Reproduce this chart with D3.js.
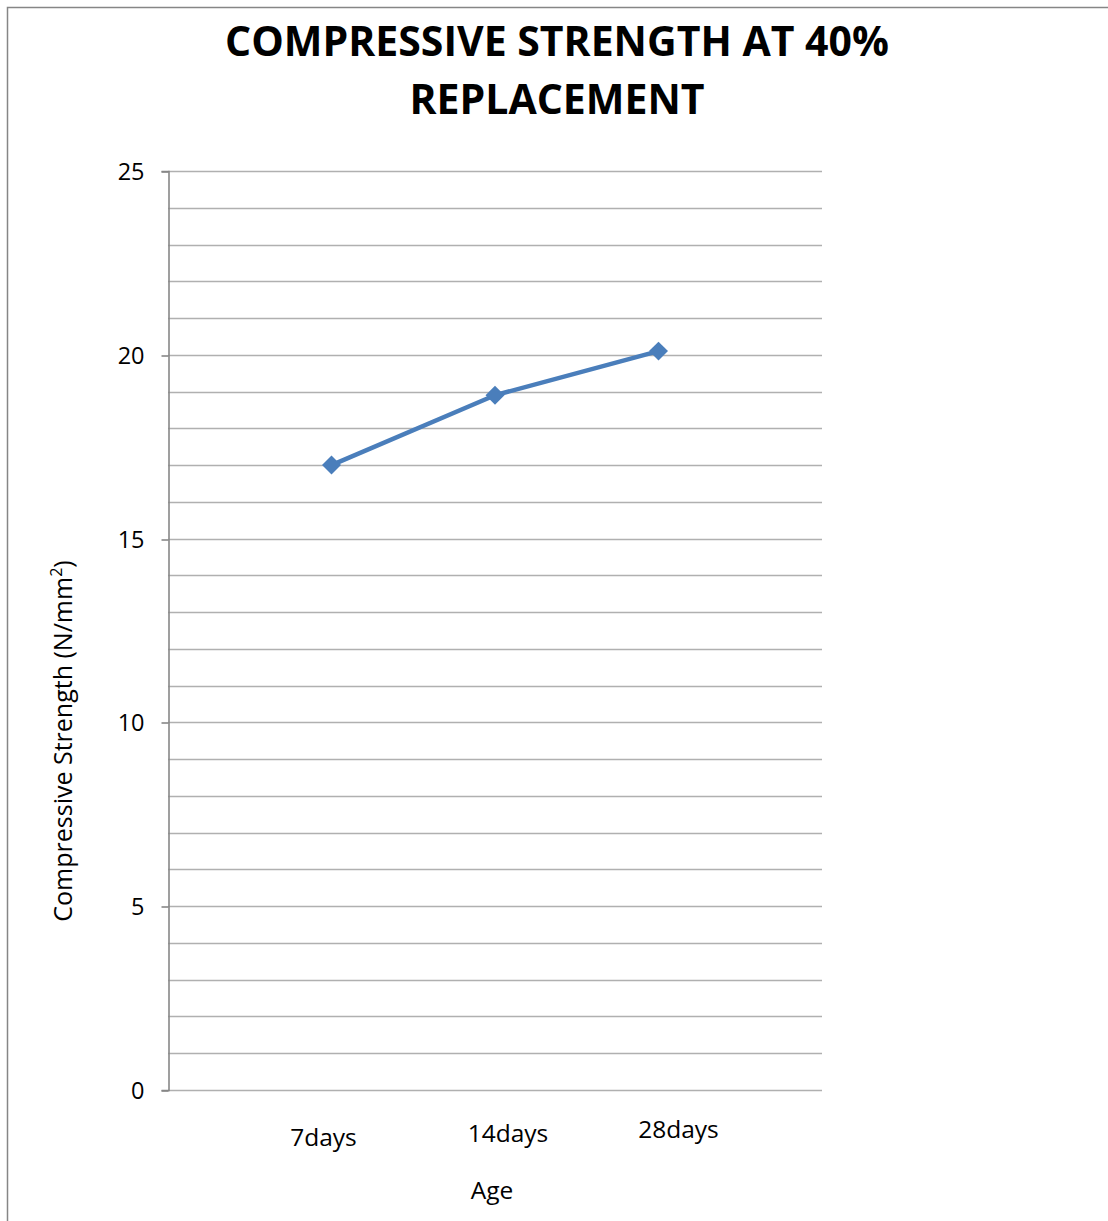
<!DOCTYPE html>
<html>
<head>
<meta charset="utf-8">
<script src="https://cdn.jsdelivr.net/npm/d3@7/dist/d3.min.js"></script>
<style>
  html, body { margin: 0; padding: 0; background: #fff; }
  svg { display: block; }
  text { font-family: "Open Sans", "Liberation Sans", sans-serif; fill: #000; }
</style>
</head>
<body>
<svg id="chart" width="1108" height="1221"></svg>
<script>
// Compressive strength at 40% replacement, by curing age
const categories = ["7days", "14days", "28days"];
const strengthValues = [17, 18.9, 20.1];
const yTickLabels = [0, 5, 10, 15, 20, 25];
const titleLines = ["COMPRESSIVE STRENGTH AT 40%", "REPLACEMENT"];

const svg = d3.select("#chart");

// outer chart frame
svg.append("rect")
  .attr("x", 7.5).attr("y", 7.5)
  .attr("width", 1200).attr("height", 1300)
  .attr("fill", "none").attr("stroke", "#868686").attr("stroke-width", 1.5);

const plot = { left: 168, right: 822, top: 171, bottom: 1090 };

const x = d3.scaleLinear().domain([0, categories.length + 1]).range([plot.left, plot.right]);
const y = d3.scaleLinear().domain([0, 25]).range([plot.bottom, plot.top]);

// horizontal gridlines every unit
svg.append("g")
  .selectAll("line")
  .data(d3.range(0, 26))
  .join("line")
  .attr("x1", plot.left).attr("x2", plot.right)
  .attr("y1", d => Math.round(y(d)) + 0.5).attr("y2", d => Math.round(y(d)) + 0.5)
  .attr("stroke", "#b0b0b0").attr("stroke-width", 1.6);

// y axis with ticks on the labelled values
const yAxis = d3.axisLeft(y).tickValues(yTickLabels).tickSize(7).tickPadding(17);
const gy = svg.append("g").attr("transform", `translate(${plot.left + 0.5},0)`).call(yAxis);
gy.select(".domain").attr("stroke", "#888").attr("stroke-width", 1.6);
gy.selectAll(".tick line").attr("stroke", "#888").attr("stroke-width", 1.6)
  .attr("transform", d => `translate(0,${Math.round(y(d)) + 0.5 - y(d)})`);
gy.selectAll(".tick text")
  .style("font-family", "'Open Sans', sans-serif")
  .attr("font-size", 23.5).attr("fill", "#000").attr("dy", "0.36em");

// category labels along the bottom
svg.append("g")
  .selectAll("text")
  .data(categories)
  .join("text")
  .attr("x", (d, i) => x(i + 1) + [-8, 13, 20][i])
  .attr("y", (d, i) => [1137, 1133, 1129][i])
  .attr("dy", "0.35em")
  .attr("text-anchor", "middle")
  .attr("font-size", 24.5)
  .text(d => d);

// axis titles
svg.append("text")
  .attr("x", 492).attr("y", 1190).attr("dy", "0.35em")
  .attr("text-anchor", "middle").attr("font-size", 24.5)
  .text("Age");

const yTitle = svg.append("text")
  .attr("transform", "translate(63,741) rotate(-90)")
  .attr("dy", "0.35em")
  .attr("text-anchor", "middle").attr("font-size", 25);
yTitle.append("tspan").text("Compressive Strength (N/mm");
yTitle.append("tspan").attr("font-size", 16).attr("dy", "-0.6em").text("2");
yTitle.append("tspan").attr("dy", "0.4em").text(")");

// chart title
svg.append("g")
  .selectAll("text")
  .data(titleLines)
  .join("text")
  .attr("x", 557)
  .attr("y", (d, i) => 42 + i * 58)
  .attr("dy", "0.35em")
  .attr("text-anchor", "middle")
  .attr("font-size", 41).attr("font-weight", "bold")
  .text(d => d);

// series line and diamond markers
const pts = strengthValues.map((v, i) => [x(i + 1), y(v)]);
svg.append("path")
  .attr("d", d3.line()(pts))
  .attr("fill", "none").attr("stroke", "#4a7ebb").attr("stroke-width", 4.5)
  .attr("stroke-linejoin", "round");

svg.append("g")
  .selectAll("path")
  .data(pts)
  .join("path")
  .attr("transform", d => `translate(${d[0]},${d[1]})`)
  .attr("d", d3.symbol(d3.symbolDiamond2, 230)())
  .attr("fill", "#4a7ebb");
</script>
</body>
</html>
